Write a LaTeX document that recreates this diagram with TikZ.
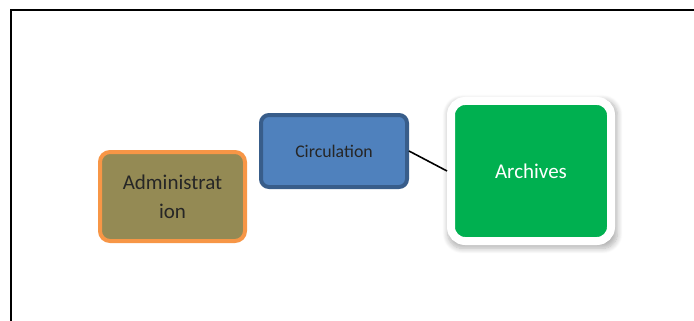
\documentclass[tikz,border=0pt]{standalone}
\usepackage{fontspec}
\setmainfont{Carlito}
\usetikzlibrary{shadows.blur}

\definecolor{adminfill}{HTML}{948A54}
\definecolor{adminline}{HTML}{F79646}
\definecolor{circfill}{HTML}{4F81BD}
\definecolor{circline}{HTML}{385D8A}
\definecolor{archfill}{HTML}{00B050}

\begin{document}
\begin{tikzpicture}[
    x=1pt, y=-1pt,
    adminbox/.style ={rectangle, rounded corners=10pt, line width=4pt,
                      draw=adminline, fill=adminfill, text=black!85,
                      font=\fontsize{21}{29}\selectfont, align=center,
                      minimum width=145pt, minimum height=89pt, inner sep=0pt},
    circbox/.style  ={rectangle, rounded corners=8pt, line width=4pt,
                      draw=circline, fill=circfill, text=black!85,
                      font=\fontsize{17.8}{22}\selectfont,
                      minimum width=146pt, minimum height=72pt, inner sep=0pt},
    archbox/.style  ={rectangle, rounded corners=14pt, line width=8pt,
                      draw=white, fill=archfill, text=white,
                      font=\fontsize{21}{26}\selectfont,
                      minimum width=160pt, minimum height=140pt, inner sep=0pt,
                      blur shadow={shadow xshift=1.5pt, shadow yshift=-3pt,
                                   shadow scale=1.06, shadow blur steps=8,
                                   shadow blur radius=5pt,
                                   shadow blur extra rounding=4pt,
                                   shadow opacity=30}},
    framerule/.style={line width=2pt, black}
]

% ---------- page and frame ----------
\useasboundingbox (0,0) rectangle (694,321);
\draw[framerule] (11,321) -- (11,10) -- (694,10);

% ---------- boxes ----------
\node[adminbox] (admin) at (172.5,196.5) {Administrat\\ion};
\node[circbox]  (circ)  at (334,151) {Circulation};
\node[archbox]  (arch)  at (531,171) {Archives};

% ---------- connector ----------
\draw[line width=1.6pt] (circ.east) -- (arch.west);

\end{tikzpicture}
\end{document}
